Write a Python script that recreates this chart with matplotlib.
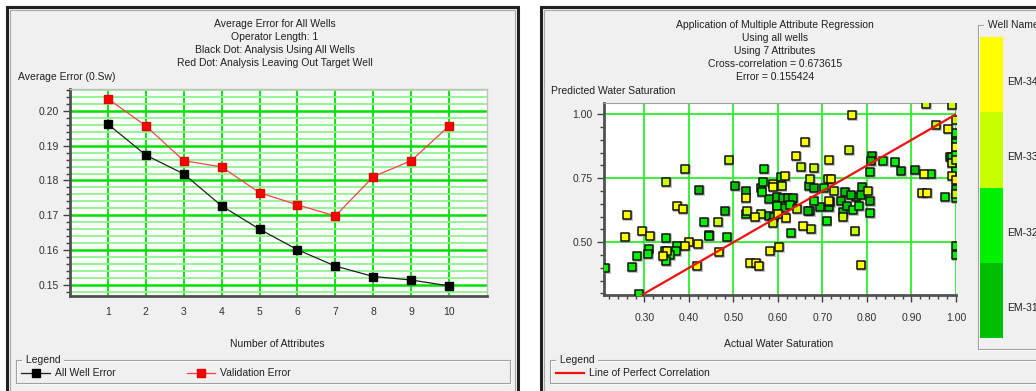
import numpy as np
import matplotlib
matplotlib.use('Agg')
import matplotlib.pyplot as plt
from matplotlib.patches import Rectangle
from matplotlib.lines import Line2D
from matplotlib.ticker import MultipleLocator, FixedLocator, FormatStrFormatter

plt.rcParams['font.family'] = ['Liberation Sans', 'DejaVu Sans']

W, H = 1036, 391
FS = 7.5

# ---- data: error vs number of attributes ----
n_attr = [1, 2, 3, 4, 5, 6, 7, 8, 9, 10]
all_well_err = [0.1962, 0.1873, 0.1819, 0.1727, 0.1660, 0.1601, 0.1554, 0.1524, 0.1514, 0.1497]
valid_err = [0.2035, 0.1957, 0.1857, 0.1839, 0.1765, 0.1730, 0.1698, 0.1811, 0.1857, 0.1957]

# ---- data: actual vs predicted water saturation, per well ----
em34_x = [0.766, 0.982, 0.661, 0.640, 0.715, 0.927, 0.615, 0.718, 0.923, 0.934, 0.992, 0.589,
          0.527, 0.260, 0.374, 0.387, 0.548, 0.295, 0.257, 0.313, 0.399, 0.392, 0.420, 0.351,
          0.341, 0.419, 0.468, 0.537, 0.550, 0.557, 0.582, 0.603, 0.657, 0.617, 0.601, 0.714,
          0.787, 1.000, 1.000]
em34_y = [0.996, 0.941, 0.891, 0.836, 0.820, 0.767, 0.759, 0.747, 0.694, 0.694, 0.759, 0.715,
          0.674, 0.605, 0.642, 0.631, 0.599, 0.544, 0.522, 0.526, 0.500, 0.486, 0.492, 0.467,
          0.446, 0.406, 0.463, 0.420, 0.420, 0.406, 0.467, 0.483, 0.562, 0.596, 0.611, 0.661,
          0.412, 0.873, 0.743]

em33_x = [0.348, 0.392, 0.489, 0.589, 0.932, 0.990, 0.955, 0.759, 0.651, 0.682, 0.672, 0.712,
          0.608, 0.726, 0.803, 0.990, 0.466, 0.531, 0.561, 0.588, 0.674, 0.772, 0.642, 0.747,
          1.000, 1.000, 1.000]
em33_y = [0.737, 0.787, 0.820, 0.729, 1.040, 1.036, 0.959, 0.861, 0.795, 0.791, 0.749, 0.747,
          0.719, 0.702, 0.702, 0.809, 0.580, 0.623, 0.609, 0.577, 0.551, 0.544, 0.629, 0.598,
          0.977, 0.821, 0.688]

em32_x = [0.568, 0.563, 0.567, 0.606, 0.837, 0.862, 0.806, 0.944, 0.703, 0.976, 0.990, 0.433,
          0.527, 0.597, 0.349, 0.486, 0.373, 0.371, 0.309, 0.308, 0.345, 0.358, 0.349, 0.284,
          0.273, 0.211, 0.288, 0.630, 0.709, 0.806, 0.768, 0.782, 0.680, 0.628, 0.445, 1.000,
          1.000, 1.000, 1.000, 1.000, 1.000, 1.000]
em32_y = [0.785, 0.698, 0.736, 0.755, 0.818, 0.814, 0.775, 0.767, 0.713, 0.678, 0.834, 0.580,
          0.611, 0.643, 0.518, 0.522, 0.486, 0.467, 0.475, 0.455, 0.467, 0.449, 0.427, 0.446,
          0.402, 0.400, 0.297, 0.536, 0.583, 0.613, 0.625, 0.642, 0.661, 0.646, 0.524, 0.486,
          0.449, 0.926, 0.887, 0.841, 0.779, 0.674]

em31_x = [0.423, 0.504, 0.527, 0.561, 0.579, 0.598, 0.812, 0.809, 0.877, 0.907, 0.986, 0.669,
          0.681, 0.751, 0.789, 0.482, 0.580, 0.590, 0.445, 0.806, 0.747, 0.741, 0.754, 0.714,
          0.695, 0.717, 0.673, 0.667, 0.632, 0.598, 0.613, 0.612, 0.623, 0.634, 0.775, 0.787,
          0.763, 1.000, 1.000, 1.000, 1.000]
em31_y = [0.704, 0.720, 0.702, 0.713, 0.669, 0.677, 0.836, 0.818, 0.779, 0.781, 0.834, 0.720,
          0.713, 0.695, 0.715, 0.623, 0.603, 0.598, 0.528, 0.661, 0.620, 0.661, 0.642, 0.637,
          0.637, 0.656, 0.623, 0.621, 0.659, 0.639, 0.633, 0.672, 0.674, 0.674, 0.677, 0.684,
          0.684, 0.902, 0.858, 0.798, 0.707]

wells = ['EM-31', 'EM-32', 'EM-33', 'EM-34']
well_colors = ['#00BE00', '#00F000', '#C8FF00', '#FFFF00']
well_x = [em31_x, em32_x, em33_x, em34_x]
well_y = [em31_y, em32_y, em33_y, em34_y]


def fx(x):
    return x / W


def fy(y):
    return 1 - y / H


fig = plt.figure(figsize=(W / 100, H / 100), dpi=100)
fig.patch.set_facecolor('white')

# window frames for the two panels (kept below the axes)
for x0, x1 in [(7, 518), (541, 1040)]:
    fig.patches.append(Rectangle((fx(x0), fy(395)), fx(x1 - x0), (395 - 7) / H,
                                 transform=fig.transFigure, facecolor='#F0F0F0',
                                 edgecolor='#202020', lw=2.2, zorder=-3))
    fig.patches.append(Rectangle((fx(x0 + 3), fy(395)), fx(x1 - x0 - 6), (395 - 10) / H,
                                 transform=fig.transFigure, facecolor='none',
                                 edgecolor='#A8A8A8', lw=0.8, zorder=-3))


def group_box(x0, y0, x1, y1, label):
    fig.patches.append(Rectangle((fx(x0 + 1), fy(y1 + 1)), fx(x1 - x0), (y1 - y0) / H,
                                 transform=fig.transFigure, facecolor='none',
                                 edgecolor='white', lw=0.8, zorder=-2))
    fig.patches.append(Rectangle((fx(x0), fy(y1)), fx(x1 - x0), (y1 - y0) / H,
                                 transform=fig.transFigure, facecolor='none',
                                 edgecolor='#A0A0A0', lw=0.8, zorder=-2))
    fig.text(fx(x0 + 7), fy(y0), ' ' + label + ' ', fontsize=FS, color='#202020',
             va='center', ha='left', zorder=2,
             bbox=dict(facecolor='#F0F0F0', edgecolor='none', pad=0.5))


title_kw = dict(fontsize=FS, color='#202020', ha='center', va='center')

# ---- LEFT PANEL: average error ----
ax1 = fig.add_axes([fx(70), fy(296), fx(417), 207 / H], zorder=1)
ax1.plot(n_attr, all_well_err, color='#202020', lw=0.9, marker='s', ms=5.2,
         mfc='black', mec='black', zorder=4)
ax1.plot(n_attr, valid_err, color='#FF4040', lw=0.9, marker='s', ms=5.2,
         mfc='#FF0000', mec='#E00000', zorder=4)
ax1.set_xlim(0, 11)
ax1.set_ylim(0.1468, 0.2063)
ax1.xaxis.set_major_locator(FixedLocator(n_attr))
ax1.yaxis.set_major_locator(MultipleLocator(0.01))
ax1.yaxis.set_minor_locator(MultipleLocator(0.002))
ax1.yaxis.set_major_formatter(FormatStrFormatter('%.2f'))
ax1.grid(which='minor', axis='y', color='#8CF58C', lw=1.3, zorder=1)
ax1.grid(which='major', axis='y', color='#00E000', lw=1.8, zorder=2)
ax1.grid(which='major', axis='x', color='#00E000', lw=1.3, zorder=2)
ax1.tick_params(axis='x', length=0, pad=8, labelsize=FS, labelcolor='#303030')
ax1.tick_params(axis='y', which='major', length=5, width=1, color='#404040',
                labelsize=FS, labelcolor='#303030', pad=3)
ax1.tick_params(axis='y', which='minor', length=3, width=1, color='#404040')
ax1.set_axisbelow(True)
for s in ['top', 'right']:
    ax1.spines[s].set_color('#C0C0C0')
    ax1.spines[s].set_linewidth(1)
for s in ['left', 'bottom']:
    ax1.spines[s].set_color('#505050')
    ax1.spines[s].set_linewidth(2)

for i, t in enumerate(['Average Error for All Wells', 'Operator Length: 1',
                       'Black Dot: Analysis Using All Wells',
                       'Red Dot: Analysis Leaving Out Target Well']):
    fig.text(fx(275), fy(24 + 13 * i), t, **title_kw)
fig.text(fx(18), fy(77), 'Average Error (0.Sw)', fontsize=FS, color='#202020', va='center')
fig.text(fx(277), fy(344), 'Number of Attributes', **title_kw)

group_box(16, 360, 510, 383, 'Legend')
fig.lines.append(Line2D([fx(21), fx(36), fx(50)], [fy(373)] * 3, transform=fig.transFigure,
                        color='#202020', lw=0.9, marker='s', ms=5.2, markevery=[1],
                        mfc='black', mec='black'))
fig.text(fx(55), fy(373), 'All Well Error', fontsize=FS, color='#202020', va='center')
fig.lines.append(Line2D([fx(187), fx(201), fx(215)], [fy(373)] * 3, transform=fig.transFigure,
                        color='#FF4040', lw=0.9, marker='s', ms=5.2, markevery=[1],
                        mfc='#FF0000', mec='#E00000'))
fig.text(fx(220), fy(373), 'Validation Error', fontsize=FS, color='#202020', va='center')

# ---- RIGHT PANEL: predicted vs actual water saturation ----
ax2 = fig.add_axes([fx(604), fy(295), fx(352), 192 / H], zorder=1)
ax2.set_xlim(0.209, 1.0)
ax2.set_ylim(0.294, 1.044)
ax2.xaxis.set_major_locator(FixedLocator([0.3, 0.4, 0.5, 0.6, 0.7, 0.8, 0.9, 1.0]))
ax2.xaxis.set_minor_locator(MultipleLocator(0.02))
ax2.yaxis.set_major_locator(FixedLocator([0.5, 0.75, 1.0]))
ax2.yaxis.set_minor_locator(MultipleLocator(0.05))
ax2.xaxis.set_major_formatter(FormatStrFormatter('%.2f'))
ax2.yaxis.set_major_formatter(FormatStrFormatter('%.2f'))
ax2.grid(which='major', color='#2AF02A', lw=1.3, zorder=1)
ax2.set_axisbelow(True)
ax2.tick_params(which='major', length=5, width=1, color='#404040',
                labelsize=FS, labelcolor='#303030', pad=3)
ax2.tick_params(axis='x', which='major', pad=8)
ax2.tick_params(which='minor', length=3, width=1, color='#404040')
ax2.spines['top'].set_color('#A0A0A0')
ax2.spines['right'].set_visible(False)
for s in ['left', 'bottom']:
    ax2.spines[s].set_color('#505050')
    ax2.spines[s].set_linewidth(2)

for xs, ys, c in zip(well_x, well_y, well_colors):
    ax2.scatter(np.array(xs) + 0.002, np.array(ys) - 0.004, marker='s', s=62,
                color='#909090', alpha=0.55, lw=0, zorder=3)
    ax2.scatter(xs, ys, marker='s', s=30, facecolor=c, edgecolor='#101010',
                lw=1.1, zorder=4)

ax2.plot([0.0, 1.0], [0.0, 1.0], color='#F01010', lw=1.6, zorder=5)

for i, t in enumerate(['Application of Multiple Attribute Regression', 'Using all wells',
                       'Using 7 Attributes', 'Cross-correlation = 0.673615',
                       'Error = 0.155424']):
    fig.text(fx(775), fy(25 + 13 * i), t, **title_kw)
fig.text(fx(551), fy(91), 'Predicted Water Saturation', fontsize=FS, color='#202020',
         va='center')
fig.text(fx(779), fy(344), 'Actual Water Saturation', **title_kw)

group_box(550, 360, 1040, 383, 'Legend')
fig.lines.append(Line2D([fx(556), fx(584)], [fy(373)] * 2, transform=fig.transFigure,
                        color='#F01010', lw=1.6))
fig.text(fx(589), fy(373), 'Line of Perfect Correlation', fontsize=FS, color='#202020',
         va='center')

# ---- well name colour key ----
group_box(978, 25, 1040, 349, 'Well Name')
cax = fig.add_axes([fx(980), fy(338), fx(23), 301 / H], zorder=1)
for i, c in enumerate(well_colors):
    cax.bar(0, 1, bottom=i, width=1, color=c, lw=0)
cax.set_xlim(-0.5, 0.5)
cax.set_ylim(0, 4)
cax.axis('off')
for i, name in enumerate(wells):
    fig.text(fx(1007), fy(308 - 75.3 * i), name, fontsize=FS, color='#202020', va='center')

plt.savefig('out.png', dpi=100)
plt.close()
